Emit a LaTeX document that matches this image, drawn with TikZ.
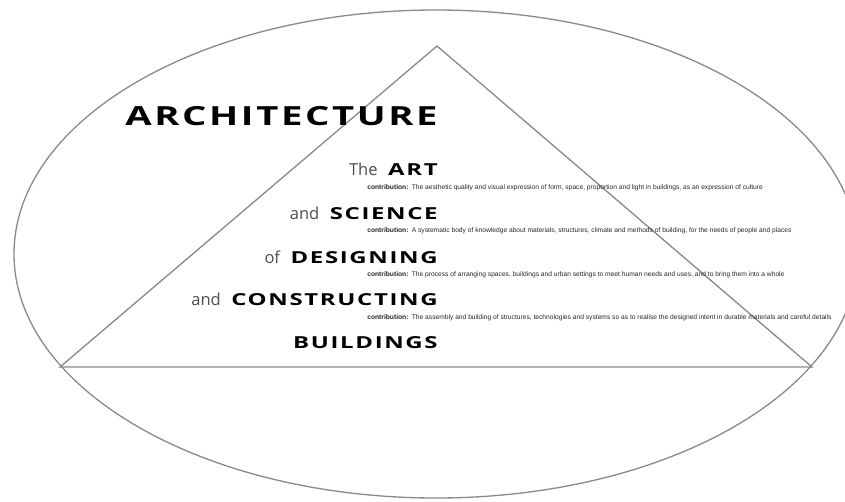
\documentclass[tikz,border=0pt]{standalone}
\usepackage{fontspec}
\usetikzlibrary{positioning}
\newfontfamily\headfont[FakeStretch=1.45, LetterSpace=10]{Open Sans}
\newfontfamily\lowfont{Open Sans}
\newfontfamily\notefont{Liberation Sans}
\definecolor{outline}{HTML}{8A8A8A}

\begin{document}
\begin{tikzpicture}[
    x=0.02cm, y=-0.02cm,
    shape line/.style={draw=outline, line width=0.75pt},
    title/.style={font=\headfont\bfseries\fontsize{15}{16}\selectfont, inner sep=0pt, anchor=base east},
    term/.style={font=\headfont\bfseries\fontsize{9.4}{10}\selectfont, inner sep=0pt, anchor=base east},
    note/.style={font=\notefont\fontsize{3.8}{4}\selectfont, inner sep=0pt, anchor=base west, text=black!85}
]
\useasboundingbox (0,0) rectangle (845,501);
\newcommand{\lw}[1]{{\lowfont\mdseries\color{black!70}#1}\hspace{6pt}}

% outer ellipse and pyramid
\coordinate (apex) at (437,46);
\coordinate (baseL) at (60,367);
\coordinate (baseR) at (812,367);
\draw[shape line] (436,254) ellipse [x radius=422, y radius=244];
\draw[shape line] (baseL) -- (apex) -- (baseR) -- cycle;

% headings
\node[title] (arch) at (438,125) {ARCHITECTURE};
\node[term] (art) at (438,175) {\lw{The}ART};
\node[term] (sci) at (438,219) {\lw{and}SCIENCE};
\node[term] (des) at (438,263) {\lw{of}DESIGNING};
\node[term] (con) at (438,305) {\lw{and}CONSTRUCTING};
\node[term] (bld) at (438,348) {BUILDINGS};

% notes
\node[note] (n1) at (367,189) {\textbf{contribution:}\enspace The aesthetic quality and visual expression of form, space, proportion and light in buildings, as an expression of culture};
\node[note] (n2) at (367,232) {\textbf{contribution:}\enspace A systematic body of knowledge about materials, structures, climate and methods of building, for the needs of people and places};
\node[note] (n3) at (367,276) {\textbf{contribution:}\enspace The process of arranging spaces, buildings and urban settings to meet human needs and uses, and to bring them into a whole};
\node[note] (n4) at (367,319) {\textbf{contribution:}\enspace The assembly and building of structures, technologies and systems so as to realise the designed intent in durable materials and careful details};

\end{tikzpicture}
\end{document}
